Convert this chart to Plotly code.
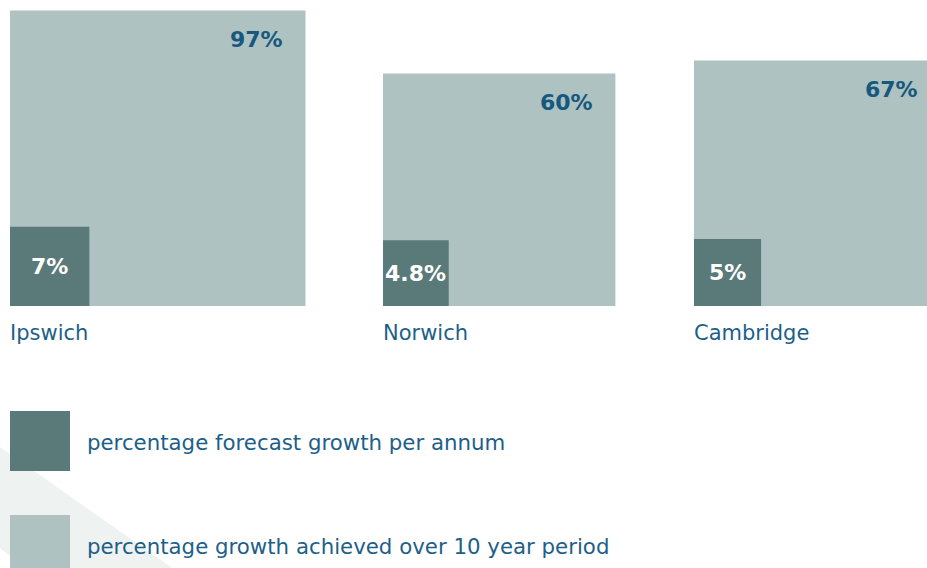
import math
import plotly.graph_objects as go

# Datos: crecimiento por ciudad
ciudades = ["Ipswich", "Norwich", "Cambridge"]
crecimiento_10_anios = [97, 60, 67]      # % logrado en 10 años (cuadro grande)
crecimiento_anual = [7, 4.8, 5]          # % previsto por año (cuadro pequeño)
etiquetas_10_anios = ["97%", "60%", "67%"]
etiquetas_anual = ["7%", "4.8%", "5%"]
leyenda_textos = [
    "percentage forecast growth per annum",
    "percentage growth achieved over 10 year period",
]

# Estilo / disposición (unidades de eje = píxeles)
ANCHO, ALTO = 927, 568
ESCALA = 30.0                  # lado del cuadro = ESCALA * sqrt(valor)
X_GRUPOS = [10, 383, 694]      # borde izquierdo de cada grupo
BASE = 306                     # línea base de los cuadros
C_OSCURO = "#5a7a79"
C_CLARO = "#aec2c1"
C_TEXTO = "#1d5f89"
C_PCT = "#17587f"
FUENTE = "DejaVu Sans"

fig = go.Figure()

# Fondo: banda diagonal gris muy clara abajo a la izquierda
fig.add_shape(type="path", xref="x", yref="y", layer="below",
              path="M 0 447 L 172 568 L 26 568 L 0 548 Z",
              fillcolor="#eef2f1", line=dict(width=0))


def lado(v):
    return ESCALA * math.sqrt(v)


for nombre, v10, va, e10, ea, x0 in zip(ciudades, crecimiento_10_anios, crecimiento_anual,
                                         etiquetas_10_anios, etiquetas_anual, X_GRUPOS):
    g = lado(v10)
    p = lado(va)
    # cuadro grande
    fig.add_shape(type="rect", x0=x0, x1=x0 + g, y0=BASE - g, y1=BASE,
                  fillcolor=C_CLARO, line=dict(width=0), layer="above")
    # cuadro pequeño
    fig.add_shape(type="rect", x0=x0, x1=x0 + p, y0=BASE - p, y1=BASE,
                  fillcolor=C_OSCURO, line=dict(width=0), layer="above")
    # etiqueta arriba a la derecha (dentro del rango del eje para que no se oculte)
    fig.add_annotation(x=x0 + g - 20, y=BASE - g + 29, text=e10, showarrow=False,
                       xanchor="right", yanchor="middle",
                       font=dict(family=FUENTE, size=22, color=C_PCT, weight="bold"))
    fig.add_annotation(x=x0 + p / 2, y=BASE - p / 2, text=ea, showarrow=False,
                       xanchor="center", yanchor="middle",
                       font=dict(family=FUENTE, size=22, color="white", weight="bold"))
    fig.add_annotation(x=x0 - 2, y=BASE + 27, text=nombre, showarrow=False,
                       xanchor="left", yanchor="middle",
                       font=dict(family=FUENTE, size=21, color=C_TEXTO))

# Leyenda manual
for texto, color, ytop in zip(leyenda_textos, [C_OSCURO, C_CLARO], [411, 515]):
    fig.add_shape(type="rect", x0=10, x1=70, y0=ytop, y1=ytop + 60,
                  fillcolor=color, line=dict(width=0), layer="above")
    fig.add_annotation(x=85, y=ytop + 31, text=texto, showarrow=False,
                       xanchor="left", yanchor="middle",
                       font=dict(family=FUENTE, size=21.3, color=C_TEXTO))

fig.update_layout(
    width=ANCHO, height=ALTO, margin=dict(l=0, r=0, t=0, b=0),
    paper_bgcolor="white", plot_bgcolor="white", showlegend=False,
    xaxis=dict(range=[0, ANCHO], visible=False, fixedrange=True),
    yaxis=dict(range=[ALTO, 0], visible=False, fixedrange=True),
)

# sin margen del body para que el gráfico empiece en (0, 0)
fig.write_html("out.html", config={"displayModeBar": False},
               post_script="document.body.style.margin='0';")
